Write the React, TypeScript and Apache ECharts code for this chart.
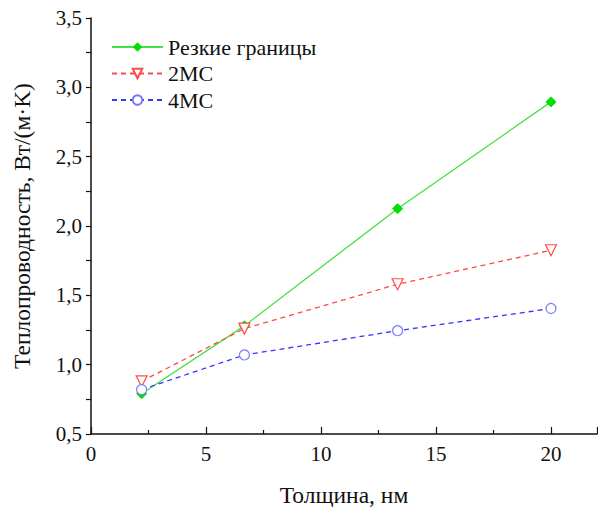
import React, { useEffect, useRef } from "react";
import * as echarts from "echarts";

const thickness = [2.2, 6.67, 13.33, 20];
const sharpValues = [0.79, 1.28, 2.125, 2.895];
const ms2Values = [0.88, 1.26, 1.58, 1.825];
const ms4Values = [0.82, 1.07, 1.245, 1.405];
const seriesNames = ["Резкие границы", "2МС", "4МС"];

const pair = (xs: number[], ys: number[]) => xs.map((x, i) => [x, ys[i]]);

export default function App() {
  const ref = useRef<HTMLDivElement>(null);
  useEffect(() => {
    const chart = echarts.init(ref.current!, null, { renderer: "svg" });
    const font = "Liberation Serif";
    chart.setOption({
      animation: false,
      backgroundColor: "#ffffff",
      textStyle: { fontFamily: font },
      grid: { left: 91, top: 18, right: 1, bottom: 73, containLabel: false, outerBoundsMode: "none" },
      legend: {
        orient: "vertical",
        left: 106,
        top: 31,
        itemWidth: 51,
        itemHeight: 12,
        itemGap: 4.5,
        textStyle: { fontFamily: font, fontSize: 22, color: "#111" },
        data: seriesNames,
      },
      xAxis: {
        type: "value",
        min: 0,
        max: 22,
        interval: 5,
        name: "Толщина, нм",
        nameLocation: "middle",
        nameGap: 49,
        nameTextStyle: { fontFamily: font, fontSize: 23.5, color: "#111" },
        axisLine: { show: true, lineStyle: { color: "#111", width: 1.5 } },
        axisTick: { show: true, inside: true, length: 7, lineStyle: { color: "#111", width: 1.2 } },
        minorTick: { show: true, splitNumber: 2, length: 4, lineStyle: { color: "#111", width: 1.2 } },
        axisLabel: {
          fontFamily: font,
          fontSize: 21,
          color: "#111",
          margin: 9,
          formatter: (v: number) => (v > 20 ? "" : String(v)),
        },
        splitLine: { show: false },
      },
      yAxis: {
        type: "value",
        min: 0.5,
        max: 3.5,
        interval: 0.5,
        name: "Теплопроводность, Вт/(м·K)",
        nameLocation: "middle",
        nameGap: 57,
        nameTextStyle: { fontFamily: font, fontSize: 23.5, color: "#111" },
        axisLine: { show: true, lineStyle: { color: "#111", width: 1.5 } },
        axisTick: { show: true, inside: false, length: 5, lineStyle: { color: "#111", width: 1.2 } },
        minorTick: { show: true, splitNumber: 2, length: 5, lineStyle: { color: "#111", width: 1.2 } },
        axisLabel: {
          fontFamily: font,
          fontSize: 21,
          color: "#111",
          margin: 9,
          formatter: (v: number) => v.toFixed(1).replace(".", ","),
        },
        splitLine: { show: false },
      },
      series: [
        {
          name: seriesNames[0],
          type: "line",
          data: pair(thickness, sharpValues),
          symbol: "diamond",
          symbolSize: 10,
          lineStyle: { color: "#44e044", width: 1.3, type: "solid" },
          itemStyle: { color: "#00e000", borderColor: "#00e000" },
          z: 3,
        },
        {
          name: seriesNames[1],
          type: "line",
          data: pair(thickness, ms2Values),
          symbol: "triangle",
          symbolRotate: 180,
          symbolSize: 11,
          lineStyle: { color: "#ff4a4a", width: 1.3, type: [5, 4] },
          itemStyle: { color: "#ffffff", borderColor: "#ff4a4a", borderWidth: 1.2 },
          z: 4,
        },
        {
          name: seriesNames[2],
          type: "line",
          data: pair(thickness, ms4Values),
          symbol: "circle",
          symbolSize: 10,
          lineStyle: { color: "#3535ff", width: 1.3, type: [5, 4] },
          itemStyle: { color: "#ffffff", borderColor: "#7a7aff", borderWidth: 1.2 },
          z: 5,
        },
      ],
    });
    return () => chart.dispose();
  }, []);
  return <div ref={ref} style={{ width: 598, height: 507, position: "absolute", left: 0, top: 0 }} />;
}
